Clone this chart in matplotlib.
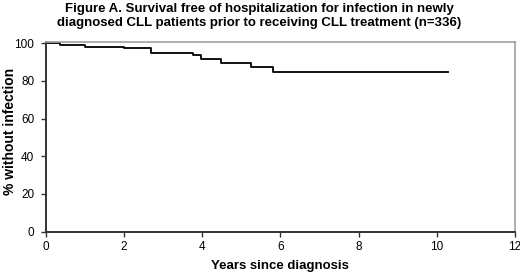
import matplotlib.pyplot as plt

# Kaplan-Meier step estimates
years = [0.0, 0.37, 1.0, 2.0, 2.7, 3.77, 3.98, 4.49, 5.24, 5.8, 10.3]
pct_free = [100.0, 99.3, 98.2, 97.4, 94.7, 93.8, 91.5, 89.7, 87.4, 84.9, 84.9]

x_ticks = [0, 2, 4, 6, 8, 10, 12]
y_ticks = [0, 20, 40, 60, 80, 100]

plt.rcParams["font.family"] = ["Liberation Sans", "DejaVu Sans"]

fig = plt.figure(figsize=(5.2, 2.75), dpi=100)
ax = fig.add_axes([0.0885, 0.158, 0.9015, 0.69])

ax.step(years, pct_free, where="post", color="black", lw=1.3)

ax.set_xlim(0, 12)
ax.set_ylim(0, 100.8)
ax.set_xticks(x_ticks)
ax.set_yticks(y_ticks)
ax.tick_params(axis="both", labelsize=8.5, length=3.5, width=1, color="#333333")
ax.tick_params(axis="x", pad=3)
ax.tick_params(axis="y", pad=5)

for side in ["left", "bottom"]:
    ax.spines[side].set_color("#333333")
    ax.spines[side].set_linewidth(1.4)
for side in ["top", "right"]:
    ax.spines[side].set_color("#a0a0a0")
    ax.spines[side].set_linewidth(1.2)

ax.set_xlabel("Years since diagnosis", fontsize=9.5, fontweight="bold")
ax.xaxis.set_label_coords(0.5, -0.15)
ax.set_ylabel("% without infection", fontsize=10, fontweight="bold")
ax.yaxis.set_label_coords(-0.062, 0.53)

fig.text(0.498, 0.99,
         "Figure A. Survival free of hospitalization for infection in newly\n"
         "diagnosed CLL patients prior to receiving CLL treatment (n=336)",
         ha="center", va="top", fontsize=9.5, fontweight="bold", linespacing=1.2)

fig.savefig("out.png", dpi=100)
